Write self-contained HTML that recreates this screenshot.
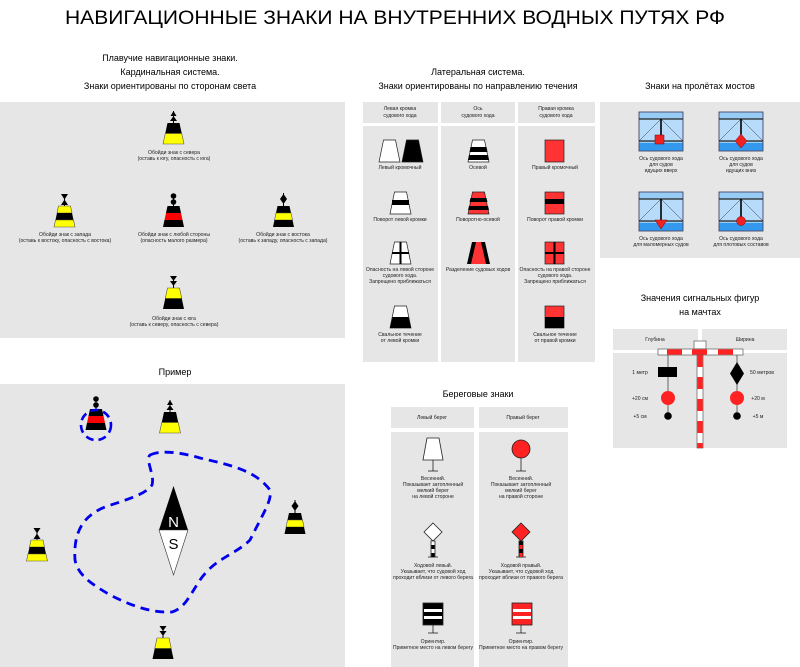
<!DOCTYPE html>
<html><head><meta charset="utf-8"><style>
html,body{margin:0;padding:0;background:#fff}
svg{display:block}
text{font-family:"Liberation Sans","DejaVu Sans",sans-serif;fill:#000}
.s{font-size:5.1px;text-anchor:middle;fill:#222}
.h{font-size:9px;text-anchor:middle}
</style></head><body>
<svg width="800" height="667" viewBox="0 0 800 667" xmlns="http://www.w3.org/2000/svg">
<defs>
<g id="tmN"><line x1="0" y1="0" x2="0" y2="-12" stroke="#000" stroke-width="1"/><path d="M-3.5,-2 L3.5,-2 L0,-7Z M-3,-7 L3,-7 L0,-12Z"/></g>
<g id="tmS"><line x1="0" y1="0" x2="0" y2="-12" stroke="#000" stroke-width="1"/><path d="M-3.5,-7 L3.5,-7 L0,-2Z M-3.5,-12 L3.5,-12 L0,-7Z"/></g>
<g id="tmW"><line x1="0" y1="0" x2="0" y2="-12" stroke="#000" stroke-width="1"/><path d="M-3.5,-1 L3.5,-1 L0,-6.5Z M-3.5,-12 L3.5,-12 L0,-6.5Z"/></g>
<g id="tmE"><line x1="0" y1="0" x2="0" y2="-13" stroke="#000" stroke-width="1"/><path d="M-3.5,-7 L3.5,-7 L0,-12Z M-3.5,-7 L3.5,-7 L0,-2Z"/></g>
<g id="tmC"><line x1="0" y1="0" x2="0" y2="-12" stroke="#000" stroke-width="1"/><circle cx="0" cy="-4" r="2.8"/><circle cx="0" cy="-10" r="2.8"/></g>
<g id="bN"><use href="#tmN"/><path d="M-6,0 L6,0 L8.25,10.5 L-8.25,10.5Z"/><path d="M-8.25,10.5 L8.25,10.5 L10.5,21 L-10.5,21Z" fill="#ff0" stroke="#554" stroke-width=".6"/></g>
<g id="bS"><use href="#tmS"/><path d="M-6,0 L6,0 L8.25,10.5 L-8.25,10.5Z" fill="#ff0" stroke="#554" stroke-width=".6"/><path d="M-8.25,10.5 L8.25,10.5 L10.5,21 L-10.5,21Z"/></g>
<g id="bW"><use href="#tmW"/><path d="M-6,0 L6,0 L7.5,7 L-7.5,7Z" fill="#ff0" stroke="#554" stroke-width=".6"/><path d="M-7.5,7 L7.5,7 L9,14 L-9,14Z"/><path d="M-9,14 L9,14 L10.5,21 L-10.5,21Z" fill="#ff0" stroke="#554" stroke-width=".6"/></g>
<g id="bE"><use href="#tmE"/><path d="M-6,0 L6,0 L7.5,7 L-7.5,7Z"/><path d="M-7.5,7 L7.5,7 L9,14 L-9,14Z" fill="#ff0" stroke="#554" stroke-width=".6"/><path d="M-9,14 L9,14 L10.5,21 L-10.5,21Z"/></g>
<g id="bC"><use href="#tmC"/><path d="M-6,0 L6,0 L7.5,7 L-7.5,7Z"/><path d="M-7.5,7 L7.5,7 L9,14 L-9,14Z" fill="#f00"/><path d="M-9,14 L9,14 L10.5,21 L-10.5,21Z"/></g>
<g id="br">
<rect x="0" y="0" width="44" height="39" fill="#99ccf5" stroke="#335" stroke-width=".8"/>
<rect x="0.5" y="7" width="43" height="22" fill="#b7dcfb"/>
<rect x="0.5" y="31" width="43" height="7.5" fill="#3399ee"/>
<line x1="0" y1="7" x2="44" y2="7" stroke="#222" stroke-width="1.2"/>
<line x1="0" y1="29" x2="44" y2="29" stroke="#222" stroke-width="1.2"/>
<line x1="22" y1="7" x2="0" y2="29" stroke="#333" stroke-width=".5"/>
<line x1="22" y1="7" x2="44" y2="29" stroke="#333" stroke-width=".5"/>
<line x1="22" y1="7" x2="22" y2="29" stroke="#000" stroke-width="1.6"/>
</g>
</defs>

<text x="395" y="24" font-size="19" text-anchor="middle" textLength="660" lengthAdjust="spacingAndGlyphs">НАВИГАЦИОННЫЕ ЗНАКИ НА ВНУТРЕННИХ ВОДНЫХ ПУТЯХ РФ</text>

<text class="h" x="170" y="61">Плавучие навигационные знаки.</text>
<text class="h" x="170" y="75">Кардинальная система.</text>
<text class="h" x="170" y="89">Знаки ориентированы по сторонам света</text>
<text class="h" x="478" y="75">Латеральная система.</text>
<text class="h" x="478" y="89">Знаки ориентированы по направлению течения</text>
<text class="h" x="700" y="89">Знаки на пролётах мостов</text>
<text class="h" x="175" y="375">Пример</text>
<text class="h" x="478" y="397">Береговые знаки</text>
<text class="h" x="700" y="301">Значения сигнальных фигур</text>
<text class="h" x="700" y="315">на мачтах</text>

<!-- cardinal panel -->
<rect x="0" y="102" width="345" height="236" fill="#e6e6e6"/>
<use href="#bN" transform="translate(173.5,123)"/>
<use href="#bW" transform="translate(64.5,206)"/>
<use href="#bC" transform="translate(173.5,206)"/>
<use href="#bE" transform="translate(283.5,206)"/>
<use href="#bS" transform="translate(173.5,288)"/>
<text class="s" x="174" y="154">Обойди знак с севера</text>
<text class="s" x="174" y="160">(оставь к югу, опасность с юга)</text>
<text class="s" x="65" y="236">Обойди знак с запада</text>
<text class="s" x="65" y="242">(оставь к востоку, опасность с востока)</text>
<text class="s" x="174" y="236">Обойди знак с любой стороны</text>
<text class="s" x="174" y="242">(опасность малого размера)</text>
<text class="s" x="283" y="236">Обойди знак с востока</text>
<text class="s" x="283" y="242">(оставь к западу, опасность с запада)</text>
<text class="s" x="174" y="320">Обойди знак с юга</text>
<text class="s" x="174" y="326">(оставь к северу, опасность с севера)</text>

<!-- example panel -->
<rect x="0" y="384" width="345" height="283" fill="#e6e6e6"/>
<use href="#bC" transform="translate(96,409)"/>
<circle cx="96" cy="425" r="15" fill="none" stroke="#0000ee" stroke-width="2.6" stroke-dasharray="8 5"/>
<use href="#bN" transform="translate(170,412)"/>
<use href="#bW" transform="translate(37,540)"/>
<use href="#bE" transform="translate(295,513)"/>
<use href="#bS" transform="translate(163,638)"/>
<path d="M150,455 C160,450 180,452 200,458 C230,465 255,470 270,490 C272,500 265,510 250,540 C235,555 215,558 200,580 C190,595 185,608 172,612 C150,613 130,605 110,595 C90,583 78,575 75,560 C73,530 85,515 105,507 C125,500 145,495 152,485 C155,475 145,460 150,455Z" fill="none" stroke="#0000ee" stroke-width="2.8" stroke-dasharray="9 6"/>
<path d="M173.5,486 L188,530 L159,530Z" fill="#000"/>
<path d="M159,530 L188,530 L173.5,575Z" fill="#fff" stroke="#333" stroke-width=".6"/>
<text x="173.5" y="527" font-size="15" text-anchor="middle" style="fill:#fff">N</text>
<text x="173.5" y="549" font-size="15" text-anchor="middle">S</text>

<!-- lateral panel -->
<rect x="363" y="102" width="75" height="21" fill="#e6e6e6"/>
<rect x="441" y="102" width="74" height="21" fill="#e6e6e6"/>
<rect x="518" y="102" width="77" height="21" fill="#e6e6e6"/>
<rect x="363" y="126" width="75" height="236" fill="#e6e6e6"/>
<rect x="441" y="126" width="74" height="236" fill="#e6e6e6"/>
<rect x="518" y="126" width="77" height="236" fill="#e6e6e6"/>
<text class="s" x="400" y="110">Левая кромка</text><text class="s" x="400" y="117">судового хода</text>
<text class="s" x="478" y="110">Ось</text><text class="s" x="478" y="117">судового хода</text>
<text class="s" x="556" y="110">Правая кромка</text><text class="s" x="556" y="117">судового хода</text>
<g stroke="#222" stroke-width=".7">
<path d="M383.5,140 L395.5,140 L400,162 L379,162Z" fill="#fff"/>
<path d="M406.5,140 L418.5,140 L423,162 L402,162Z" fill="#000"/>
<path d="M394.5,192 L406.5,192 L411,214 L390,214Z" fill="#fff"/>
<path d="M394.5,242 L406.5,242 L411,264 L390,264Z" fill="#fff"/>
<path d="M394.5,306 L406.5,306 L411,328 L390,328Z" fill="#fff"/>
<path d="M472.5,140 L484.5,140 L489,162 L468,162Z" fill="#fff"/>
<path d="M472.5,192 L484.5,192 L489,214 L468,214Z" fill="#f33"/>
<rect x="545" y="140" width="19" height="22" fill="#f33"/>
<rect x="545" y="192" width="19" height="22" fill="#f33"/>
<rect x="545" y="242" width="19" height="22" fill="#f33"/>
<rect x="545" y="306" width="19" height="22" fill="#f33"/>
</g>
<rect x="392" y="200" width="17" height="5"/>
<rect x="399.5" y="242" width="2" height="22"/><rect x="392" y="252" width="17" height="2"/>
<path d="M392.5,317 L408.5,317 L411,328 L390,328Z"/>
<path d="M470.5,147 L486.5,147 L487.5,152 L469.5,152Z M469,155 L488,155 L489,160 L468,160Z"/>
<path d="M470.5,198 L486.5,198 L487.5,202 L469.5,202Z M469,206 L488,206 L489,210 L468,210Z"/>
<path d="M472,242 L485,242 L490,264 L467,264Z" fill="#000"/>
<path d="M476,242 L481,242 L486,264 L471,264Z" fill="#f33"/>
<rect x="545" y="199" width="19" height="5"/>
<rect x="553.5" y="242" width="2" height="22"/><rect x="545" y="252" width="19" height="2"/>
<rect x="545" y="317" width="19" height="11"/>
<text class="s" x="400" y="169">Левый кромочный</text>
<text class="s" x="400" y="221">Поворот левой кромки</text>
<text class="s" x="400" y="271">Опасность на левой стороне</text>
<text class="s" x="400" y="277">судового хода.</text>
<text class="s" x="400" y="283">Запрещено приближаться</text>
<text class="s" x="400" y="336">Свальное течение</text>
<text class="s" x="400" y="342">от левой кромки</text>
<text class="s" x="478" y="169">Осевой</text>
<text class="s" x="478" y="221">Поворотно-осевой</text>
<text class="s" x="478" y="271">Разделение судовых ходов</text>
<text class="s" x="555" y="169">Правый кромочный</text>
<text class="s" x="555" y="221">Поворот правой кромки</text>
<text class="s" x="555" y="271">Опасность на правой стороне</text>
<text class="s" x="555" y="277">судового хода.</text>
<text class="s" x="555" y="283">Запрещено приближаться</text>
<text class="s" x="555" y="336">Свальное течение</text>
<text class="s" x="555" y="342">от правой кромки</text>

<!-- bridge panel -->
<rect x="600" y="102" width="200" height="156" fill="#e6e6e6"/>
<use href="#br" transform="translate(639,112)"/>
<use href="#br" transform="translate(719,112)"/>
<use href="#br" transform="translate(639,192)"/>
<use href="#br" transform="translate(719,192)"/>
<rect x="655" y="135" width="9" height="9" fill="#e22" stroke="#800" stroke-width=".5"/>
<path d="M741,134 L747,141 L741,148 L735,141Z" fill="#e22" stroke="#800" stroke-width=".5"/>
<path d="M655,220 L667,220 L661,229Z" fill="#e22" stroke="#800" stroke-width=".5"/>
<circle cx="741" cy="221" r="4.5" fill="#e22" stroke="#800" stroke-width=".5"/>
<text class="s" x="661" y="160">Ось судового хода</text><text class="s" x="661" y="166">для судов</text><text class="s" x="661" y="172">идущих вверх</text>
<text class="s" x="741" y="160">Ось судового хода</text><text class="s" x="741" y="166">для судов</text><text class="s" x="741" y="172">идущих вниз</text>
<text class="s" x="661" y="240">Ось судового хода</text><text class="s" x="661" y="246">для маломерных судов</text>
<text class="s" x="741" y="240">Ось судового хода</text><text class="s" x="741" y="246">для плотовых составов</text>

<!-- mast panel -->
<rect x="613" y="329" width="85" height="21" fill="#e6e6e6"/>
<rect x="702" y="329" width="85" height="21" fill="#e6e6e6"/>
<rect x="613" y="353" width="174" height="95" fill="#e6e6e6"/>
<text class="s" x="655" y="341">Глубина</text>
<text class="s" x="745" y="341">Ширина</text>
<line x1="668" y1="355" x2="668" y2="416" stroke="#444" stroke-width=".8"/>
<line x1="737" y1="355" x2="737" y2="416" stroke="#444" stroke-width=".8"/>
<rect x="694" y="341" width="12" height="8" fill="#fff" stroke="#444" stroke-width=".6"/>
<rect x="658" y="349" width="85" height="6" fill="#fff" stroke="#444" stroke-width=".6"/>
<rect x="667" y="349.3" width="15" height="5.4" fill="#f22"/>
<rect x="692" y="349.3" width="15" height="5.4" fill="#f22"/>
<rect x="718" y="349.3" width="15" height="5.4" fill="#f22"/>
<rect x="697" y="355" width="6" height="93" fill="#fff" stroke="#444" stroke-width=".6"/>
<g fill="#f22"><rect x="697.3" y="355" width="5.4" height="12"/><rect x="697.3" y="377" width="5.4" height="12"/><rect x="697.3" y="399" width="5.4" height="12"/><rect x="697.3" y="421" width="5.4" height="12"/><rect x="697.3" y="443" width="5.4" height="5"/></g>
<rect x="658" y="367" width="19" height="10" fill="#000"/>
<path d="M737,362 L744,373.5 L737,385 L730,373.5Z"/>
<circle cx="668" cy="398" r="7" fill="#f22"/><circle cx="737" cy="398" r="7" fill="#f22"/>
<circle cx="668" cy="416" r="3.8"/><circle cx="737" cy="416" r="3.8"/>
<text class="s" x="640" y="374">1 метр</text>
<text class="s" x="640" y="400">+20 см</text>
<text class="s" x="640" y="418">+5 см</text>
<text class="s" x="762" y="374">50 метров</text>
<text class="s" x="758" y="400">+20 м</text>
<text class="s" x="758" y="418">+5 м</text>

<!-- coastal -->
<rect x="391" y="407" width="83" height="21" fill="#e6e6e6"/>
<rect x="479" y="407" width="89" height="21" fill="#e6e6e6"/>
<rect x="391" y="432" width="83" height="235" fill="#e6e6e6"/>
<rect x="479" y="432" width="89" height="235" fill="#e6e6e6"/>
<text class="s" x="432" y="419">Левый берег</text>
<text class="s" x="523" y="419">Правый берег</text>
<g stroke="#222" stroke-width=".8">
<line x1="433" y1="460" x2="433" y2="471"/><line x1="428" y1="471" x2="438" y2="471"/>
<line x1="521" y1="458" x2="521" y2="471"/><line x1="516" y1="471" x2="526" y2="471"/>
<line x1="428" y1="557" x2="438" y2="557"/><line x1="516" y1="557" x2="526" y2="557"/>
<line x1="433" y1="625" x2="433" y2="633"/><line x1="428" y1="633" x2="438" y2="633"/>
<line x1="521" y1="625" x2="521" y2="633"/><line x1="516" y1="633" x2="526" y2="633"/>
<path d="M427,438 L439,438 L443,460 L423,460Z" fill="#fff"/>
<circle cx="521" cy="449" r="9" fill="#f22"/>
<path d="M433,523 L442,532 L433,541 L424,532Z" fill="#fff"/>
<path d="M521,523 L530,532 L521,541 L512,532Z" fill="#f22"/>
<rect x="431" y="541" width="4" height="16" fill="#fff"/>
<rect x="519" y="541" width="4" height="16" fill="#000"/>
<rect x="423" y="603" width="20" height="22" fill="#000"/>
<rect x="512" y="603" width="20" height="22" fill="#f22"/>
</g>
<rect x="431.4" y="545" width="3.2" height="4"/><rect x="431.4" y="553" width="3.2" height="4"/>
<rect x="519.4" y="545" width="3.2" height="4" fill="#f22"/><rect x="519.4" y="553" width="3.2" height="4" fill="#f22"/>
<rect x="424" y="609" width="18" height="3" fill="#fff"/><rect x="424" y="616" width="18" height="3" fill="#fff"/>
<rect x="513" y="609" width="18" height="3" fill="#fff"/><rect x="513" y="616" width="18" height="3" fill="#fff"/>
<text class="s" x="433" y="480">Весенний.</text><text class="s" x="433" y="486">Показывает затопленный</text><text class="s" x="433" y="492">мелкий берег</text><text class="s" x="433" y="498">на левой стороне</text>
<text class="s" x="521" y="480">Весенний.</text><text class="s" x="521" y="486">Показывает затопленный</text><text class="s" x="521" y="492">мелкий берег</text><text class="s" x="521" y="498">на правой стороне</text>
<text class="s" x="433" y="567">Ходовой левый.</text><text class="s" x="433" y="573">Указывает, что судовой ход</text><text class="s" x="433" y="579" textLength="80" lengthAdjust="spacingAndGlyphs">проходит вблизи от левого берега</text>
<text class="s" x="521" y="567">Ходовой правый.</text><text class="s" x="521" y="573">Указывает, что судовой ход</text><text class="s" x="521" y="579" textLength="84" lengthAdjust="spacingAndGlyphs">проходит вблизи от правого берега</text>
<text class="s" x="433" y="643">Ориентир.</text><text class="s" x="433" y="649" textLength="80" lengthAdjust="spacingAndGlyphs">Приметное место на левом берегу</text>
<text class="s" x="521" y="643">Ориентир.</text><text class="s" x="521" y="649" textLength="84" lengthAdjust="spacingAndGlyphs">Приметное место на правом берегу</text>
</svg>
</body></html>
